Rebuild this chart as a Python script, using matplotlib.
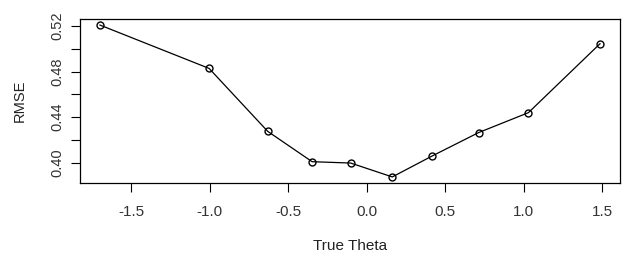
import matplotlib
matplotlib.use("Agg")
import matplotlib.pyplot as plt

theta = [-1.699, -1.004, -0.631, -0.348, -0.102, 0.163, 0.418, 0.713, 1.030, 1.486]
rmse = [0.521, 0.4829, 0.4276, 0.4009, 0.3997, 0.3875, 0.406, 0.4265, 0.444, 0.5046]
xticks = [-1.5, -1.0, -0.5, 0.0, 0.5, 1.0, 1.5]
yticks = [0.40, 0.42, 0.44, 0.46, 0.48, 0.50, 0.52]
ylabels = ["0.40", "", "0.44", "", "0.48", "", "0.52"]

plt.rcParams['font.family'] = ['Liberation Sans', 'DejaVu Sans']
W, H = 632, 265
fig = plt.figure(figsize=(W/100, H/100), dpi=100)
ax = fig.add_axes([80/W, 1-183/H, 540/W, 164/H])
ax.plot(theta, rmse, color='black', lw=0.9, marker='o', ms=5, mfc='none', mec='black', mew=1.0)
xmin, xmax = min(theta), max(theta)
ymin, ymax = min(rmse), max(rmse)
dx, dy = (xmax-xmin)*0.04, (ymax-ymin)*0.04
ax.set_xlim(xmin-dx, xmax+dx)
ax.set_ylim(ymin-dy, ymax+dy)
ax.set_xticks(xticks)
ax.set_xticklabels([f"{v:.1f}" for v in xticks], fontsize=11, color='#333333')
ax.set_yticks(yticks)
ax.set_yticklabels(ylabels, fontsize=10.5, rotation=90, va='center', color='#333333')
ax.tick_params(axis='both', direction='out', length=6.5, width=0.8)
ax.tick_params(axis='x', pad=9)
ax.tick_params(axis='y', pad=5)
for s in ax.spines.values():
    s.set_linewidth(0.9)
ax.set_xlabel("True Theta", fontsize=11, labelpad=15, color='#222222')
ax.set_ylabel("RMSE", fontsize=10.5, labelpad=17, color='#222222')
fig.savefig("out.png", dpi=100, facecolor='white')
